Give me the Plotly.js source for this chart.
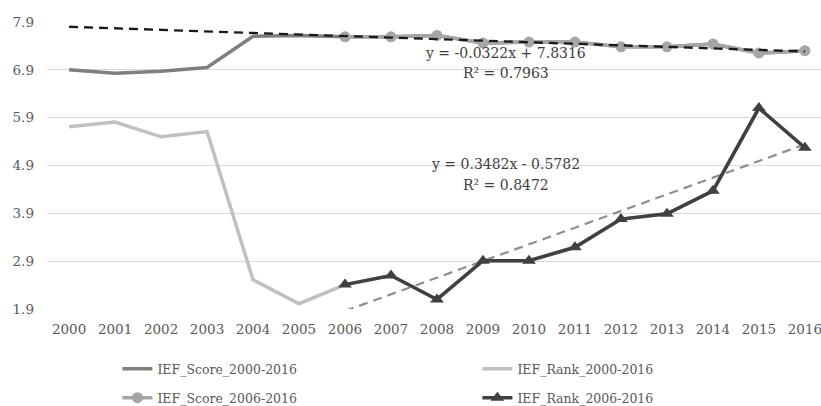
<!DOCTYPE html>
<html><head><meta charset="utf-8">
<script src="https://cdn.plot.ly/plotly-3.0.1.min.js"></script>
<style>html,body{margin:0;padding:0;background:#fff}#chart{width:821px;height:406px}</style>
</head><body><div id="chart"></div>
<script>
const years = [2000,2001,2002,2003,2004,2005,2006,2007,2008,2009,2010,2011,2012,2013,2014,2015,2016];
const scoreAll = [6.90,6.83,6.87,6.95,7.60,7.62,7.59,7.59,7.62,7.46,7.48,7.48,7.38,7.38,7.44,7.25,7.30];
const rankAll  = [5.71,5.81,5.50,5.61,2.51,2.01,2.41,2.60,2.10,2.91,2.91,3.19,3.78,3.89,4.37,6.10,5.27];
const years06 = [2006,2007,2008,2009,2010,2011,2012,2013,2014,2015,2016];
const score06 = [7.59,7.59,7.62,7.46,7.48,7.48,7.38,7.38,7.44,7.25,7.30];
const rank06  = [2.41,2.60,2.10,2.91,2.91,3.19,3.78,3.89,4.37,6.10,5.27];
const scoreTrend = {slope:-0.0322, intercept:7.8316, label:"y = -0.0322x + 7.8316", r2:"R² = 0.7963"};
const rankTrend  = {slope:0.3482, intercept:-0.5782, label:"y = 0.3482x - 0.5782", r2:"R² = 0.8472"};
const yTicks = [1.9,2.9,3.9,4.9,5.9,6.9,7.9];

const trendY = (t, xs) => xs.map(y => t.slope*(y-1999) + t.intercept);
const FONT = "DejaVu Serif";
const data = [
  {x:years, y:scoreAll, name:"IEF_Score_2000-2016", legend:"legend", mode:"lines", line:{color:"#7f7f7f", width:3.5}},
  {x:years, y:rankAll, name:"IEF_Rank_2000-2016", legend:"legend", mode:"lines", line:{color:"#c0c0c0", width:3.5}},
  {x:years06, y:trendY(rankTrend, years06), mode:"lines", showlegend:false, hoverinfo:"skip", line:{color:"#8f8f8f", width:2.2, dash:"9px,6px"}},
  {x:years06, y:rank06, name:"IEF_Rank_2006-2016", legend:"legend2", legendrank:2, mode:"lines+markers", line:{color:"#404040", width:3.5}, marker:{symbol:"triangle-up", size:12, color:"#404040"}},
  {x:years06, y:score06, name:"IEF_Score_2006-2016", legend:"legend2", legendrank:1, mode:"lines+markers", line:{color:"#a5a5a5", width:3.5}, marker:{symbol:"circle", size:11, color:"#a5a5a5"}},
  {x:years, y:trendY(scoreTrend, years), mode:"lines", showlegend:false, hoverinfo:"skip", line:{color:"#1a1a1a", width:2.4, dash:"9px,6px"}}
];

const legBase = {orientation:"h", xref:"container", yref:"container", xanchor:"left", yanchor:"middle",
  entrywidth:315, entrywidthmode:"pixels", traceorder:"normal", itemwidth:30,
  font:{family:FONT, size:12.5, color:"#595959"}, bgcolor:"rgba(0,0,0,0)"};

const layout = {
  width:821, height:406,
  margin:{l:47, r:0, t:22, b:97},
  paper_bgcolor:"#fff", plot_bgcolor:"#fff",
  font:{family:FONT, size:13.5, color:"#595959"},
  showlegend:true,
  legend:Object.assign({}, legBase, {x:0.143, y:1-369/406}),
  legend2:Object.assign({}, legBase, {x:0.143, y:1-398/406}),
  xaxis:{range:[1999.52, 2016.35], tickmode:"array", tickvals:years, ticktext:years.map(String),
         ticklabeloverflow:"allow", ticklabelstandoff:10,
         showgrid:false, zeroline:false, showline:false, ticks:"", fixedrange:true},
  yaxis:{range:[1.9, 7.9], tickmode:"array", tickvals:yTicks, ticktext:yTicks.map(v=>v.toFixed(1)),
         showgrid:true, gridcolor:"#d9d9d9", gridwidth:1, zeroline:false, showline:false, ticks:"", ticklabelstandoff:12},
  annotations:[
    {x:2009.5, y:7.25, xref:"x", yref:"y", text:scoreTrend.label, showarrow:false, font:{family:FONT,size:14,color:"#404040"}},
    {x:2009.5, y:6.84, xref:"x", yref:"y", text:scoreTrend.r2, showarrow:false, font:{family:FONT,size:14,color:"#404040"}},
    {x:2009.5, y:4.94, xref:"x", yref:"y", text:rankTrend.label, showarrow:false, font:{family:FONT,size:14,color:"#404040"}},
    {x:2009.5, y:4.49, xref:"x", yref:"y", text:rankTrend.r2, showarrow:false, font:{family:FONT,size:14,color:"#404040"}}
  ]
};
Plotly.newPlot("chart", data, layout, {displayModeBar:false, staticPlot:true});
</script></body></html>
